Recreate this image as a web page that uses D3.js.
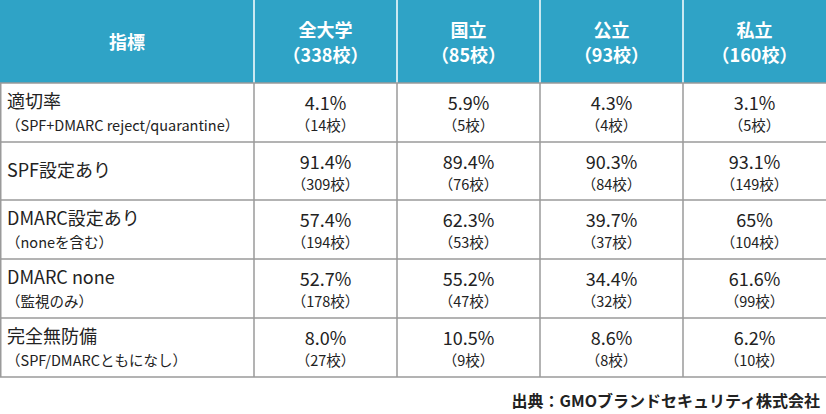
<!DOCTYPE html><html><head><meta charset="utf-8"><script src="https://cdn.jsdelivr.net/npm/d3@7"></script>
<style>body{margin:0;background:#fff}</style></head><body><svg id="c" width="826" height="414"></svg><script>
const headers=[["指標"],["全大学","（338校）"],["国立","（85校）"],["公立","（93校）"],["私立","（160校）"]];
const labels=["適切率","SPF設定あり","DMARC設定あり","DMARC none","完全無防備"];
const sublabels=["（SPF+DMARC reject/quarantine）","","（noneを含む）","（監視のみ）","（SPF/DMARCともになし）"];
const pct=[["4.1%","5.9%","4.3%","3.1%"],["91.4%","89.4%","90.3%","93.1%"],["57.4%","62.3%","39.7%","65%"],["52.7%","55.2%","34.4%","61.6%"],["8.0%","10.5%","8.6%","6.2%"]];
const counts=[[14,5,4,5],[309,76,84,149],[194,53,37,104],[178,47,32,99],[27,9,8,10]];
const source="出典：GMOブランドセキュリティ株式会社";
const svg=d3.select("#c"),F="'Noto Sans CJK JP',sans-serif";
const colX=[0,254,397,540,683,826];
const rowY=[0,83,142,200,259,318,377];
const line="#9a9a9a";
svg.append("rect").attr("x",0).attr("y",0).attr("width",826).attr("height",83).attr("fill","#2fa3c6");
headers.forEach((h,i)=>{const cx=(colX[i]+colX[i+1])/2;
 h.forEach((t,j)=>svg.append("text").attr("x",cx).attr("y",h.length==1?49:37+j*25).attr("text-anchor","middle").attr("font-family",F).attr("font-weight","bold").attr("font-size",18).attr("fill","#fff").text(t));
 if(i>0)svg.append("line").attr("x1",colX[i]).attr("x2",colX[i]).attr("y1",0).attr("y2",83).attr("stroke","#fff").attr("stroke-width",1.5);});
labels.forEach((l,r)=>{const y0=rowY[r+1],y1=rowY[r+2],has=sublabels[r]!=="";
 svg.append("text").attr("x",7).attr("y",has?y0+25:(y0+y1)/2+6).attr("font-family",F).attr("font-size",18).attr("fill","#222").text(l);
 if(has)svg.append("text").attr("x",6).attr("y",y0+48).attr("font-family",F).attr("font-size",14.5).attr("fill","#222").text(sublabels[r]);
 pct[r].forEach((p,c)=>{const cx=(colX[c+1]+colX[c+2])/2;
  svg.append("text").attr("x",cx).attr("y",y0+27).attr("text-anchor","middle").attr("font-family",F).attr("font-size",18).attr("fill","#222").text(p);
  svg.append("text").attr("x",cx).attr("y",y0+48).attr("text-anchor","middle").attr("font-family",F).attr("font-size",14.5).attr("fill","#222").text("（"+counts[r][c]+"校）");});
});
rowY.slice(1).forEach(y=>svg.append("line").attr("x1",0).attr("x2",826).attr("y1",y).attr("y2",y).attr("stroke",line).attr("stroke-width",1.5));
colX.forEach((x,i)=>{if(i==5)return;svg.append("line").attr("x1",x+(i==0?0.75:0)).attr("x2",x+(i==0?0.75:0)).attr("y1",83).attr("y2",377).attr("stroke",line).attr("stroke-width",1.5);});
svg.append("text").attr("x",820).attr("y",407).attr("text-anchor","end").attr("font-family",F).attr("font-weight","bold").attr("font-size",16).attr("fill","#222").text(source);
</script></body></html>
